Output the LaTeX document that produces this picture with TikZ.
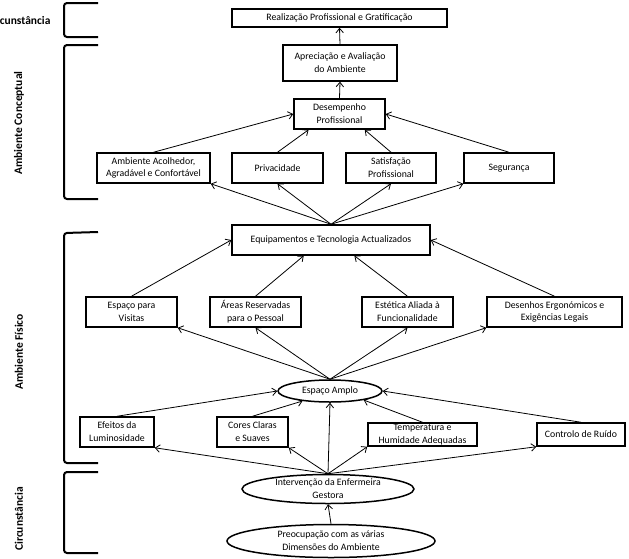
\documentclass[tikz,border=0pt]{standalone}
\usepackage{fontspec}
\setmainfont{Carlito}
\usetikzlibrary{arrows.meta,shapes.geometric}
\tikzset{
  box/.style={draw, line width=1.5pt, align=center, inner sep=1pt, font=\fontsize{9.8}{12.8}\selectfont},
  oval/.style={ellipse, draw, line width=1.5pt, align=center, inner sep=0pt, font=\fontsize{9.8}{12.8}\selectfont},
  wh/.style 2 args={minimum width=#1pt, minimum height=#2pt},
  arr/.style={line width=0.8pt, -{Straight Barb[length=4.5pt,width=7.5pt]}},
  brack/.style={line width=2pt, rounded corners=3pt},
  side/.style={font=\fontsize{11.5}{13}\selectfont\bfseries},
}
\begin{document}
\begin{tikzpicture}[x=1pt,y=-1pt]
  \useasboundingbox (0,0) rectangle (629,558);
  \clip (0,0) rectangle (629,558);

  \node[box,wh={215}{18}] (real) at (339.5,18) {Realização Profissional e Gratificação};
  \node[box,wh={114}{36}] (apre) at (340,63) {Apreciação e Avaliação\\do Ambiente};
  \node[box,wh={91}{30}] (desemp) at (339.5,114) {Desempenho\\Profissional};
  \node[box,wh={113}{30}] (acolh) at (153.5,168) {Ambiente Acolhedor,\\Agradável e Confortável};
  \node[box,wh={91}{30}] (priv) at (277.5,168) {Privacidade};
  \node[box,wh={90}{30}] (satisf) at (391,168) {Satisfação\\Profissional};
  \node[box,wh={90}{30}] (segur) at (509,168) {Segurança};
  \node[box,wh={198}{30}] (equip) at (331,240) {Equipamentos e Tecnologia Actualizados};
  \node[box,wh={91}{30}] (visit) at (131.5,312) {Espaço para\\Visitas};
  \node[box,wh={91}{30}] (areas) at (255.5,312) {Áreas Reservadas\\para o Pessoal};
  \node[box,wh={91}{30}] (estet) at (407.5,312) {Estética Aliada à\\Funcionalidade};
  \node[box,wh={135}{30}] (desen) at (554.5,312) {Desenhos Ergonómicos e\\Exigências Legais};
  \node[oval,wh={104}{22}] (amplo) at (330,391) {Espaço Amplo};
  \node[box,wh={74}{30}] (efeit) at (117,432) {Efeitos da\\Luminosidade};
  \node[box,wh={71}{30}] (cores) at (252.5,432) {Cores Claras\\e Suaves};
  \node[box,wh={109}{23}] (temper) at (422.5,434.5) {Temperatura e\\Humidade Adequadas};
  \node[box,wh={88}{23}] (ruido) at (581,434.5) {Controlo de Ruído};
  \node[oval,wh={172}{29}] (interv) at (328,489) {Intervenção da Enfermeira\\Gestora};
  \node[oval,wh={208}{33}] (preoc) at (331,541) {Preocupação com as várias\\Dimensões do Ambiente};

  \draw[arr] (apre.north) -- (real.south);
  \draw[arr] (desemp.north) -- (apre.south);
  \draw[arr] (acolh.north) -- (desemp.west);
  \draw[arr] (priv.north) -- (desemp.207);
  \draw[arr] (satisf.north) -- (desemp.328);
  \draw[arr] (segur.north) -- (desemp.east);
  \foreach \t in {acolh.south east, priv.south, satisf.south, segur.south west}
    \draw[arr] (equip.north) -- (\t);
  \draw[arr] (visit.north) -- (equip.west);
  \draw[arr] (areas.north) -- (equip.210);
  \draw[arr] (estet.north) -- (equip.326);
  \draw[arr] (desen.north) -- (equip.east);
  \foreach \t in {visit.south east, areas.south, estet.south, desen.south west}
    \draw[arr] (amplo.north) -- (\t);
  \draw[arr] (efeit.north) -- (amplo.west);
  \draw[arr] (cores.north) -- (amplo.200);
  \draw[arr] (interv.north) -- (amplo.south);
  \draw[arr] (temper.north) -- (amplo.345);
  \draw[arr] (ruido.north) -- (amplo.east);
  \foreach \t in {efeit.south east, cores.south east, temper.south west, ruido.south west}
    \draw[arr] (interv.north) -- (\t);
  \draw[arr] (preoc.north) -- (interv.south);

  \draw[brack] (98,3) -- (64,3) -- (64,37) -- (98,37);
  \draw[brack] (98,45) -- (64,45) -- (64,199) -- (98,199);
  \draw[brack] (98,232) -- (64,233) -- (64,463) -- (98,463);
  \draw[brack] (98,472) -- (64,472) -- (64,553) -- (98,553);

  \node[side, anchor=east] (circtop) at (54,21) {Circunstância};
  \node[side, rotate=90] (conc) at (19,123) {Ambiente Conceptual};
  \node[side, rotate=90] (fis) at (19,352) {Ambiente Físico};
  \node[side, rotate=90] (circbot) at (19,519) {Circunstância};
\end{tikzpicture}
\end{document}
